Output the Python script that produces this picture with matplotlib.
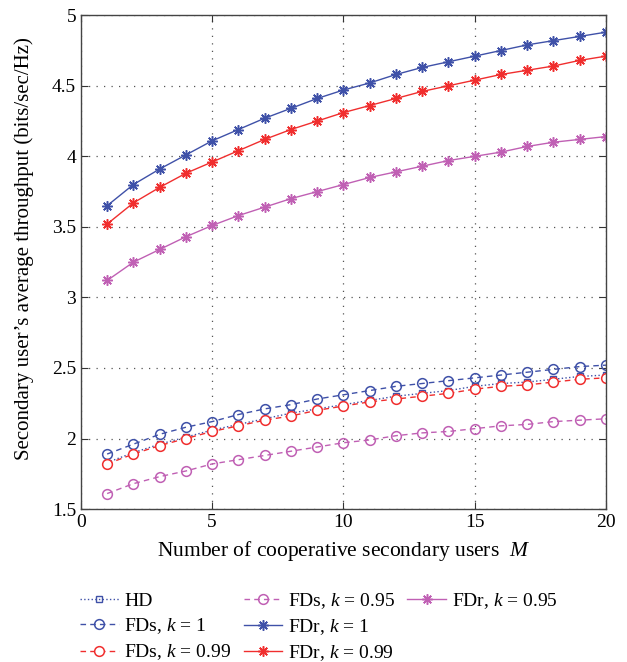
import matplotlib
matplotlib.use("Agg")
import matplotlib.pyplot as plt
from matplotlib.lines import Line2D

plt.rcParams['font.family'] = ['Liberation Serif', 'DejaVu Serif']
plt.rcParams['mathtext.fontset'] = 'custom'
plt.rcParams['mathtext.rm'] = 'Liberation Serif'
plt.rcParams['mathtext.it'] = 'Liberation Serif:italic'

M = list(range(1, 21))
hd = [1.83, 1.90, 1.96, 2.01, 2.06, 2.10, 2.14, 2.18, 2.21, 2.24,
      2.27, 2.30, 2.32, 2.34, 2.37, 2.39, 2.40, 2.42, 2.44, 2.45]
fds_1 = [1.89, 1.96, 2.03, 2.08, 2.12, 2.17, 2.21, 2.24, 2.28, 2.31,
         2.34, 2.37, 2.39, 2.41, 2.43, 2.45, 2.47, 2.49, 2.51, 2.52]
fds_099 = [1.82, 1.89, 1.95, 2.00, 2.05, 2.09, 2.13, 2.16, 2.20, 2.23,
           2.26, 2.28, 2.30, 2.32, 2.35, 2.37, 2.38, 2.40, 2.42, 2.43]
fds_095 = [1.61, 1.68, 1.73, 1.77, 1.82, 1.85, 1.88, 1.91, 1.94, 1.97,
           1.99, 2.02, 2.04, 2.05, 2.07, 2.09, 2.10, 2.12, 2.13, 2.14]
fdr_1 = [3.65, 3.80, 3.91, 4.01, 4.11, 4.19, 4.27, 4.34, 4.41, 4.47,
         4.52, 4.58, 4.63, 4.67, 4.71, 4.75, 4.79, 4.82, 4.85, 4.88]
fdr_099 = [3.52, 3.67, 3.78, 3.88, 3.96, 4.04, 4.12, 4.19, 4.25, 4.31,
           4.36, 4.41, 4.46, 4.50, 4.54, 4.58, 4.61, 4.64, 4.68, 4.71]
fdr_095 = [3.12, 3.25, 3.34, 3.43, 3.51, 3.58, 3.64, 3.70, 3.75, 3.80,
           3.85, 3.89, 3.93, 3.97, 4.00, 4.03, 4.07, 4.10, 4.12, 4.14]

BLUE = '#3f51a8'
RED = '#f02e2e'
MAG = '#c060b4'

fig = plt.figure(figsize=(6.27, 6.62), dpi=100)
ax = fig.add_axes([0.129, 0.231, 0.8375, 0.746])

star = (8, 2, 0)
dash = (0, (4, 3))
h_hd, = ax.plot(M, hd, linestyle=':', color=BLUE, marker='s', ms=4.5, mfc='none', mew=1.0, lw=1.0,
                label='HD', zorder=1.5)
h1, = ax.plot(M, fds_1, linestyle=dash, color=BLUE, marker='o', ms=7, mfc='none', mew=1.1, lw=1.0, label='FDs, $k$ = 1')
h2, = ax.plot(M, fds_099, linestyle=dash, color=RED, marker='o', ms=7, mfc='white', mew=1.1, lw=1.0, label='FDs, $k$ = 0.99')
h3, = ax.plot(M, fds_095, linestyle=dash, color=MAG, marker='o', ms=7, mfc='none', mew=1.1, lw=1.0, label='FDs, $k$ = 0.95')
h4, = ax.plot(M, fdr_1, linestyle='-', color=BLUE, marker=star, ms=7.5, mew=1.1, lw=1.0, label='FDr, $k$ = 1')
h5, = ax.plot(M, fdr_099, linestyle='-', color=RED, marker=star, ms=7.5, mew=1.1, lw=1.0, label='FDr, $k$ = 0.99')
h6, = ax.plot(M, fdr_095, linestyle='-', color=MAG, marker=star, ms=7.5, mew=1.1, lw=1.0, label='FDr, $k$ = 0.95')

ax.set_xlim(0, 20)
ax.set_ylim(1.5, 5)
ax.set_xticks([0, 5, 10, 15, 20])
ax.set_yticks([1.5, 2, 2.5, 3, 3.5, 4, 4.5, 5])
ax.set_yticklabels(['1.5', '2', '2.5', '3', '3.5', '4', '4.5', '5'])
ax.tick_params(direction='in', top=True, right=True, labelsize=14, length=5, color='#333333')
ax.grid(True, linestyle=(0, (1, 5)), color='#555555', linewidth=0.9)
for s in ax.spines.values():
    s.set_color('#444444')
    s.set_linewidth(1.0)

ax.set_xlabel('Number of cooperative secondary users  $M$', fontsize=15.5, labelpad=6)
ax.set_ylabel('Secondary user\u2019s average throughput (bits/sec/Hz)', fontsize=15)
ax.yaxis.set_label_coords(-0.09, 0.528)

blank = Line2D([], [], linestyle='none', marker=None)
handles = [h_hd, h1, h2, h3, h4, h5, h6, blank, blank]
labels = [h.get_label() for h in [h_hd, h1, h2, h3, h4, h5, h6]] + ['', '']
leg = ax.legend(handles, labels, loc='upper left', bbox_to_anchor=(-0.017, -0.15), ncol=3,
                frameon=False, fontsize=14, handlelength=2.0, handletextpad=0.3,
                columnspacing=0.62, labelspacing=0.33, borderaxespad=0)

fig.savefig('out.png', dpi=100)
